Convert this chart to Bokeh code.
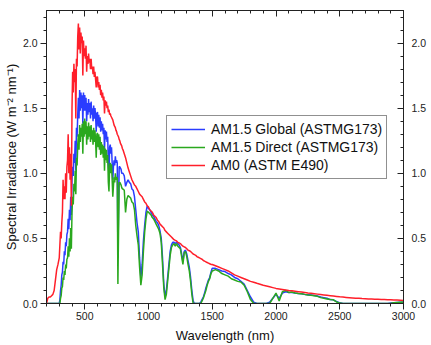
from bokeh.plotting import figure
from bokeh.models import (Range1d, LinearAxis, FixedTicker, PrintfTickFormatter,
                          Legend, LegendItem, ColumnDataSource)
from bokeh.embed import file_html
from bokeh.resources import INLINE

# ---------------- data ----------------
wl_uv = [200, 210, 220, 230, 240, 250, 260, 270, 280, 290]
am0_uv = [0.0, 0.04, 0.05, 0.05, 0.06, 0.07, 0.10, 0.18, 0.26, 0.30]
glob_uv = [0.0, 0.0, 0.0, 0.0, 0.0, 0.0, 0.0, 0.0, 0.0, 0.0]
dir_uv = [0.0, 0.0, 0.0, 0.0, 0.0, 0.0, 0.0, 0.0, 0.0, 0.0]

wl_vis = [300, 305, 310, 315, 320, 325, 330, 335, 340, 345,
          350, 355, 360, 365, 370, 375, 380, 385, 390, 395,
          400, 405, 410, 415, 420, 425, 430, 435, 440, 445,
          450, 455, 460, 465, 470, 475, 480, 485, 490, 495,
          500, 505, 510, 515, 520, 525, 530, 535, 540, 545,
          550, 555, 560, 565, 570, 575, 580, 585, 590, 595,
          600, 605, 610, 615, 620, 625, 630, 635, 640, 645,
          650, 655, 660, 665, 670, 675, 680, 685, 690, 695,
          700, 705, 710, 715, 720, 725, 730, 735, 740, 745,
          750, 755, 760, 765, 770, 775, 780, 785, 790, 795]
am0_vis = [0.35, 0.45, 0.55, 0.50, 0.62, 0.70, 0.95, 0.80, 0.90, 0.80,
           1.00, 0.85, 1.05, 1.10, 1.30, 1.00, 1.20, 0.95, 1.15, 0.75,
           1.50, 1.78, 1.62, 1.84, 1.70, 1.80, 1.42, 1.88, 1.82, 2.05,
           2.15, 1.95, 2.12, 1.92, 2.08, 2.00, 2.05, 1.75, 2.02, 1.90,
           1.96, 1.88, 1.98, 1.78, 1.90, 1.84, 1.92, 1.85, 1.88, 1.80,
           1.88, 1.80, 1.82, 1.76, 1.82, 1.74, 1.78, 1.72, 1.66, 1.74,
           1.74, 1.66, 1.70, 1.64, 1.68, 1.60, 1.64, 1.58, 1.62, 1.56,
           1.59, 1.46, 1.56, 1.52, 1.55, 1.50, 1.52, 1.47, 1.49, 1.45,
           1.46, 1.44, 1.43, 1.42, 1.41, 1.39, 1.37, 1.36, 1.35, 1.33,
           1.32, 1.30, 1.29, 1.28, 1.26, 1.25, 1.23, 1.22, 1.21, 1.19]
glob_vis = [0.00, 0.03, 0.10, 0.14, 0.22, 0.24, 0.32, 0.30, 0.40, 0.37,
            0.47, 0.44, 0.53, 0.55, 0.65, 0.57, 0.72, 0.64, 0.82, 0.68,
            0.95, 1.05, 0.98, 1.15, 1.08, 1.25, 1.02, 1.35, 1.28, 1.45,
            1.58, 1.42, 1.64, 1.48, 1.62, 1.50, 1.60, 1.38, 1.62, 1.48,
            1.60, 1.48, 1.58, 1.40, 1.54, 1.45, 1.57, 1.47, 1.54, 1.42,
            1.55, 1.45, 1.50, 1.40, 1.52, 1.42, 1.50, 1.44, 1.32, 1.46,
            1.47, 1.36, 1.45, 1.35, 1.43, 1.32, 1.40, 1.33, 1.38, 1.30,
            1.35, 1.18, 1.33, 1.26, 1.32, 1.24, 1.28, 1.08, 0.98, 1.20,
            1.22, 1.15, 1.20, 1.08, 0.95, 1.05, 1.10, 1.06, 1.13, 1.08,
            1.10, 1.08, 0.35, 0.70, 1.05, 1.05, 1.04, 1.03, 1.00, 1.00]
dir_vis = [0.00, 0.00, 0.04, 0.06, 0.12, 0.13, 0.20, 0.18, 0.25, 0.22,
           0.30, 0.27, 0.34, 0.35, 0.44, 0.36, 0.50, 0.40, 0.58, 0.42,
           0.70, 0.82, 0.76, 0.92, 0.86, 1.02, 0.84, 1.12, 1.06, 1.22,
           1.30, 1.18, 1.37, 1.24, 1.35, 1.28, 1.38, 1.15, 1.40, 1.28,
           1.42, 1.30, 1.40, 1.22, 1.36, 1.26, 1.39, 1.28, 1.36, 1.24,
           1.37, 1.26, 1.33, 1.22, 1.35, 1.24, 1.33, 1.25, 1.12, 1.30,
           1.31, 1.20, 1.30, 1.18, 1.28, 1.14, 1.24, 1.15, 1.22, 1.12,
           1.21, 1.02, 1.19, 1.10, 1.18, 1.08, 1.14, 0.93, 0.86, 1.06,
           1.08, 1.00, 1.07, 0.95, 0.82, 0.90, 0.97, 0.93, 1.00, 0.95,
           0.97, 0.96, 0.15, 0.55, 0.93, 0.93, 0.92, 0.91, 0.89, 0.88]

wl_nir = [800, 810, 820, 830, 840, 850, 860, 870, 880, 890,
          900, 910, 920, 930, 940, 950, 960, 970, 980, 990,
          1000, 1010, 1020, 1030, 1040, 1050, 1060, 1070, 1080, 1090,
          1100, 1110, 1120, 1130, 1140, 1150, 1160, 1170, 1180, 1190,
          1200, 1210, 1220, 1230, 1240, 1250, 1260, 1270, 1280, 1290,
          1300, 1310, 1320, 1330, 1340, 1350, 1360, 1370, 1380, 1390,
          1400, 1410, 1420, 1430, 1440, 1450, 1460, 1470, 1480, 1490]
am0_nir = [1.18, 1.15, 1.12, 1.08, 1.04, 1.01, 0.98, 0.95, 0.93, 0.91,
           0.90, 0.88, 0.86, 0.84, 0.83, 0.82, 0.80, 0.78, 0.77, 0.75,
           0.74, 0.72, 0.71, 0.70, 0.68, 0.67, 0.66, 0.64, 0.63, 0.61,
           0.60, 0.59, 0.58, 0.56, 0.55, 0.54, 0.53, 0.52, 0.51, 0.50,
           0.49, 0.485, 0.48, 0.47, 0.465, 0.46, 0.45, 0.44, 0.435, 0.43,
           0.42, 0.41, 0.405, 0.40, 0.39, 0.38, 0.375, 0.37, 0.36, 0.355,
           0.35, 0.345, 0.34, 0.33, 0.325, 0.32, 0.315, 0.31, 0.305, 0.30]
glob_nir = [1.00, 0.98, 0.90, 0.93, 0.95, 0.93, 0.92, 0.88, 0.87, 0.82,
            0.72, 0.62, 0.55, 0.35, 0.20, 0.30, 0.48, 0.60, 0.70, 0.75,
            0.73, 0.72, 0.70, 0.68, 0.67, 0.65, 0.63, 0.62, 0.60, 0.56,
            0.50, 0.35, 0.15, 0.05, 0.10, 0.20, 0.30, 0.40, 0.45, 0.47,
            0.47, 0.46, 0.47, 0.46, 0.45, 0.43, 0.38, 0.32, 0.40, 0.41,
            0.38, 0.33, 0.28, 0.20, 0.10, 0.02, 0.00, 0.00, 0.00, 0.00,
            0.00, 0.01, 0.03, 0.05, 0.08, 0.12, 0.15, 0.18, 0.20, 0.24]
dir_nir = [0.88, 0.87, 0.70, 0.80, 0.83, 0.82, 0.81, 0.78, 0.77, 0.72,
           0.60, 0.52, 0.45, 0.28, 0.14, 0.22, 0.40, 0.55, 0.65, 0.71,
           0.70, 0.69, 0.68, 0.66, 0.65, 0.63, 0.61, 0.59, 0.57, 0.54,
           0.47, 0.30, 0.12, 0.03, 0.07, 0.17, 0.27, 0.37, 0.43, 0.45,
           0.46, 0.44, 0.46, 0.44, 0.43, 0.42, 0.36, 0.30, 0.39, 0.40,
           0.36, 0.30, 0.25, 0.17, 0.07, 0.00, 0.00, 0.00, 0.00, 0.00,
           0.00, 0.00, 0.02, 0.04, 0.07, 0.10, 0.14, 0.17, 0.19, 0.23]

wl_ir = [1500, 1525, 1550, 1575, 1600, 1625, 1650, 1675, 1700, 1725,
         1750, 1775, 1800, 1825, 1850, 1875, 1900, 1925, 1950, 1975,
         2000, 2025, 2050, 2075, 2100, 2125, 2150, 2175, 2200, 2225,
         2250, 2275, 2300, 2325, 2350, 2375, 2400, 2425, 2450, 2475,
         2500, 2525, 2550, 2575, 2600, 2625, 2650, 2675, 2700, 2725,
         2750, 2775, 2800, 2825, 2850, 2875, 2900, 2925, 2950, 2975,
         3000]
am0_ir = [0.30, 0.29, 0.28, 0.27, 0.26, 0.25, 0.235, 0.22, 0.21, 0.20,
          0.19, 0.18, 0.17, 0.163, 0.155, 0.148, 0.14, 0.134, 0.128, 0.122,
          0.116, 0.112, 0.108, 0.104, 0.10, 0.097, 0.094, 0.091, 0.088, 0.085,
          0.081, 0.078, 0.075, 0.072, 0.069, 0.066, 0.063, 0.060, 0.057, 0.054,
          0.051, 0.049, 0.047, 0.045, 0.043, 0.041, 0.040, 0.038, 0.037, 0.035,
          0.034, 0.033, 0.032, 0.031, 0.030, 0.029, 0.028, 0.027, 0.026, 0.025,
          0.024]
glob_ir = [0.27, 0.27, 0.26, 0.25, 0.245, 0.23, 0.22, 0.20, 0.19, 0.17,
           0.15, 0.10, 0.05, 0.01, 0.0, 0.0, 0.0, 0.0, 0.01, 0.04,
           0.07, 0.04, 0.08, 0.09, 0.085, 0.085, 0.08, 0.077, 0.075, 0.07,
           0.068, 0.065, 0.062, 0.058, 0.05, 0.045, 0.04, 0.03, 0.028, 0.015,
           0.005, 0.0, 0.0, 0.0, 0.0, 0.0, 0.0, 0.0, 0.0, 0.0,
           0.0, 0.0, 0.0, 0.0, 0.0, 0.0, 0.003, 0.006, 0.008, 0.01,
           0.01]
dir_ir = [0.25, 0.26, 0.25, 0.23, 0.22, 0.21, 0.19, 0.18, 0.17, 0.165,
          0.14, 0.09, 0.03, 0.0, 0.0, 0.0, 0.0, 0.0, 0.0, 0.04,
          0.08, 0.02, 0.09, 0.10, 0.085, 0.088, 0.08, 0.077, 0.075, 0.07,
          0.066, 0.064, 0.06, 0.055, 0.045, 0.04, 0.035, 0.03, 0.028, 0.012,
          0.003, 0.0, 0.0, 0.0, 0.0, 0.0, 0.0, 0.0, 0.0, 0.0,
          0.0, 0.0, 0.0, 0.0, 0.0, 0.0, 0.002, 0.005, 0.008, 0.01,
          0.012]

x_major_ticks = [500, 1000, 1500, 2000, 2500, 3000]
y_major_ticks = [0.0, 0.5, 1.0, 1.5, 2.0]

series_labels = ["AM1.5 Global (ASTMG173)", "AM1.5 Direct (ASTMG173)", "AM0 (ASTM E490)"]
series_colors = ["#2a3cff", "#2aa81e", "#ff1f2a"]

wavelength = wl_uv + wl_vis + wl_nir + wl_ir
am15_global = glob_uv + glob_vis + glob_nir + glob_ir
am15_direct = dir_uv + dir_vis + dir_nir + dir_ir
am0 = am0_uv + am0_vis + am0_nir + am0_ir

src = ColumnDataSource(dict(wl=wavelength, g=am15_global, d=am15_direct, a=am0))

FONT = "Liberation Sans"

p = figure(width=431, height=345, output_backend="svg", toolbar_location=None,
           x_range=Range1d(200, 3000), y_range=Range1d(0, 2.25),
           min_border_left=0, min_border_right=28, min_border_top=10,
           min_border_bottom=0)
p.xgrid.visible = False
p.ygrid.visible = False
p.outline_line_color = "#222222"
p.outline_line_width = 1
p.background_fill_color = "white"
p.border_fill_color = "white"

r_g = p.line("wl", "g", source=src, line_color=series_colors[0], line_width=1.5)
r_d = p.line("wl", "d", source=src, line_color=series_colors[1], line_width=1.5)
r_a = p.line("wl", "a", source=src, line_color=series_colors[2], line_width=1.5)

x_minor = list(range(200, 3001, 100))
y_minor = [i / 10 for i in range(0, 23)]
xt = FixedTicker(ticks=x_major_ticks, minor_ticks=x_minor)
yt = FixedTicker(ticks=y_major_ticks, minor_ticks=y_minor)
fmt = PrintfTickFormatter(format="%.1f")


def style_axis(ax):
    ax.axis_line_color = "#222222"
    ax.major_tick_line_color = "#222222"
    ax.minor_tick_line_color = "#222222"
    ax.major_label_text_font = FONT
    ax.major_label_text_font_size = "10.5px"
    ax.major_label_text_color = "#222222"
    ax.axis_label_text_font = FONT
    ax.axis_label_text_font_size = "13px"
    ax.axis_label_text_font_style = "normal"
    ax.axis_label_text_color = "#111111"


xa = p.xaxis[0]
xa.ticker = xt
style_axis(xa)
xa.major_tick_out = 6
xa.major_tick_in = 0
xa.minor_tick_out = 3
xa.minor_tick_in = 0
xa.major_label_standoff = 2
xa.axis_label = "Wavelength (nm)"
xa.axis_label_standoff = 5

ya = p.yaxis[0]
ya.ticker = yt
ya.formatter = fmt
style_axis(ya)
ya.major_tick_out = 6
ya.major_tick_in = 0
ya.minor_tick_out = 3
ya.minor_tick_in = 0
ya.major_label_standoff = 3
ya.axis_label = "Spectral Irradiance (W m\u207b\u00b2 nm\u207b\u00b9)"
ya.axis_label_standoff = 1

ra = LinearAxis(ticker=yt, formatter=fmt)
style_axis(ra)
ra.major_tick_in = 6
ra.major_tick_out = 0
ra.minor_tick_in = 3
ra.minor_tick_out = 0
ra.major_label_standoff = 8
p.add_layout(ra, "right")

ta = LinearAxis(ticker=xt)
style_axis(ta)
ta.major_tick_in = 6
ta.major_tick_out = 0
ta.minor_tick_in = 3
ta.minor_tick_out = 0
ta.major_label_text_font_size = "0px"
ta.major_label_text_color = None
ta.major_label_standoff = 0
p.add_layout(ta, "above")

legend = Legend(items=[LegendItem(label=series_labels[0], renderers=[r_g]),
                       LegendItem(label=series_labels[1], renderers=[r_d]),
                       LegendItem(label=series_labels[2], renderers=[r_a])],
                location=(120, 124))
legend.border_line_color = "#222222"
legend.border_line_width = 1
legend.background_fill_color = "white"
legend.background_fill_alpha = 1.0
legend.label_text_font = FONT
legend.label_text_font_size = "14px"
legend.label_text_color = "#111111"
legend.glyph_width = 34
legend.glyph_height = 18
legend.label_height = 18
legend.label_standoff = 6
legend.spacing = 0
legend.padding = 4
legend.margin = 0
p.add_layout(legend)

open("out.html", "w").write(file_html(p, INLINE))
